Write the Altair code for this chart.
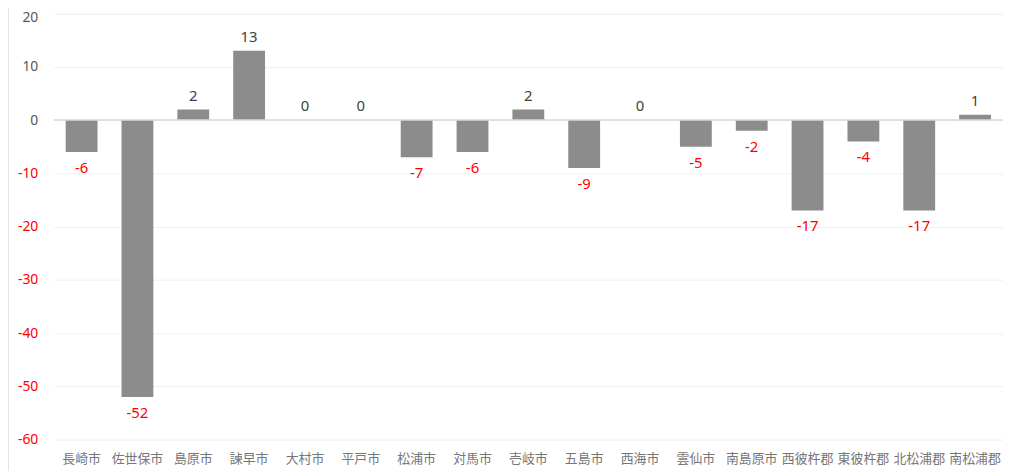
import altair as alt
import pandas as pd

cities = ["長崎市", "佐世保市", "島原市", "諫早市", "大村市", "平戸市", "松浦市", "対馬市",
          "壱岐市", "五島市", "西海市", "雲仙市", "南島原市", "西彼杵郡", "東彼杵郡", "北松浦郡", "南松浦郡"]
values = [-6, -52, 2, 13, 0, 0, -7, -6, 2, -9, 0, -5, -2, -17, -4, -17, 1]
y_ticks = [20, 10, 0, -10, -20, -30, -40, -50, -60]

df = pd.DataFrame({"city": cities, "value": values})
df["label"] = [str(v) for v in values]

W, H = 956, 429
xenc = alt.X("city:N", sort=cities, title=None,
             scale=alt.Scale(paddingInner=0.43, paddingOuter=0.215),
             axis=alt.Axis(labelAngle=0, domain=False, ticks=False, grid=False,
                           labelFont="Noto Sans CJK JP", labelFontSize=13,
                           labelColor="#767676", labelPadding=13))
yscale = alt.Scale(domain=[-60, 20], nice=False, zero=False)

bars = alt.Chart(df).mark_bar(color="#8c8c8c").encode(
    x=xenc,
    y=alt.Y("value:Q", scale=yscale, title=None,
            axis=alt.Axis(values=y_ticks, domain=False, ticks=False, grid=True,
                          gridColor="#efefef", gridWidth=1,
                          labelFont="Noto Sans", labelFontSize=14, labelPadding=16,
                          labelExpr="'' + datum.value",
                          labelOffset=alt.expr("datum.value == 20 ? 4 : 0"),
                          labelColor=alt.expr("datum.value < 0 ? '#ff0000' : '#595959'"))),
    y2=alt.Y2(datum=0),
)

zero = alt.Chart(pd.DataFrame({"z": [0]})).mark_rule(color="#d9d9d9", strokeWidth=1.5).encode(
    y=alt.Y("z:Q", scale=yscale), x=alt.value(0), x2=alt.value(W))

frame = alt.Chart(pd.DataFrame({"z": [0]})).mark_rule(color="#e3e3e3", strokeWidth=2).encode(
    x=alt.value(-46), y=alt.value(-12), y2=alt.value(470))

pos = alt.Chart(df).transform_filter("datum.value >= 0").mark_text(
    baseline="bottom", dy=-6, fontSize=15, font="Noto Sans", color="#404040").encode(
    x=alt.X("city:N", sort=cities), y=alt.Y("value:Q", scale=yscale), text="label:N")

neg = alt.Chart(df).transform_filter("datum.value < 0").mark_text(
    baseline="top", dy=9, fontSize=15, font="Noto Sans", color="#ff0000").encode(
    x=alt.X("city:N", sort=cities), y=alt.Y("value:Q", scale=yscale), text="label:N")

chart = alt.layer(frame, bars, zero, pos, neg).properties(
    width=W, height=H,
    autosize=alt.AutoSizeParams(type="none"),
    padding={"left": 46, "top": 4, "right": 0, "bottom": 30},
).configure_view(stroke=None)

chart.save("out.html", embed_options={"renderer": "svg", "actions": False})
